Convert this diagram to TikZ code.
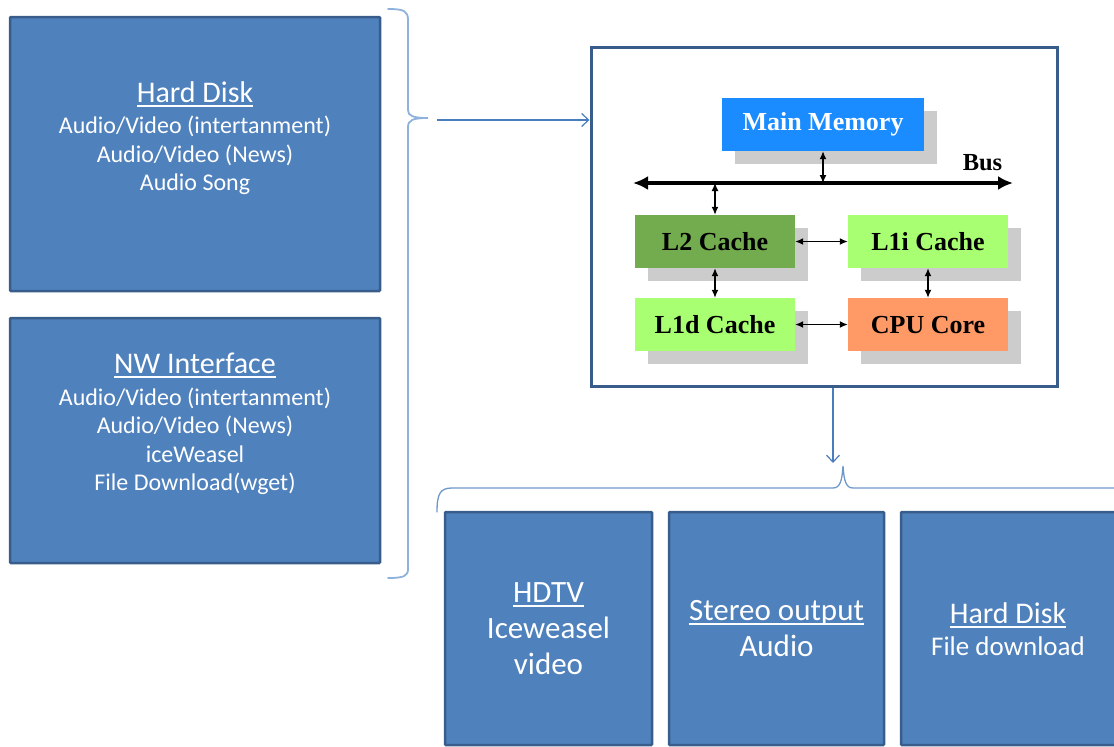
\documentclass[tikz,border=0pt]{standalone}
\usepackage{fontspec}
\setmainfont{Carlito}
\newfontfamily\serifbold{Liberation Serif}
\usetikzlibrary{arrows.meta,shadows}

\definecolor{boxblue}{HTML}{4F81BD}
\definecolor{boxedge}{HTML}{385D8A}
\definecolor{connblue}{HTML}{4A7EBB}
\definecolor{braceblue}{HTML}{8FB2DC}
\definecolor{memblue}{HTML}{1A8CFF}
\definecolor{ltwogreen}{HTML}{73AC4E}
\definecolor{lonegreen}{HTML}{A8FF72}
\definecolor{coresalmon}{HTML}{FF9966}
\definecolor{shadowgray}{HTML}{CCCCCC}

% underline with a fixed drop below the baseline
\newsavebox\ulinebox
\newcommand\ulined[1]{\sbox\ulinebox{#1}\rlap{\rule[-0.15em]{\wd\ulinebox}{0.065em}}\usebox\ulinebox}

\begin{document}
\begin{tikzpicture}[x=1pt,y=-1pt,
  bluebox/.style={rectangle, fill=boxblue, draw=boxedge, line width=2.5pt, inner sep=0pt, rounded corners=1pt},
  boxtext/.style={text=white, anchor=base, inner sep=0pt},
  titlebig/.style={boxtext, font=\fontsize{30}{36}\selectfont},
  subsmall/.style={boxtext, font=\fontsize{24}{29}\selectfont},
  sublarge/.style={boxtext, font=\fontsize{31}{36}\selectfont},
  submid/.style={boxtext, font=\fontsize{27}{32}\selectfont},
  cachebox/.style={rectangle, inner sep=0pt, minimum width=160pt, minimum height=53pt,
    text height=23.4pt, text depth=6.4pt,
    font=\serifbold\bfseries\fontsize{26}{30}\selectfont,
    drop shadow={shadow xshift=13pt, shadow yshift=-13pt, fill=shadowgray, opacity=1}},
  bidir/.style={{Latex[length=8pt,width=7pt]}-{Latex[length=8pt,width=7pt]}, line width=1.3pt},
  flow/.style={draw=connblue, line width=1.2pt, -{Straight Barb[length=7pt,width=13pt]}},
  brace/.style={draw=braceblue, line width=1.8pt, line cap=round}
]
\useasboundingbox (0,0) rectangle (1114,747);

% ---- sources ----
\node[bluebox, minimum width=370pt, minimum height=274pt] (srcdisk) at (195,154) {};
\node[titlebig] (srcdiskt) at (195,102) {\ulined{Hard Disk}};
\node[subsmall] (srcdiska) at (195,133) {Audio/Video (intertanment)};
\node[subsmall] (srcdiskb) at (195,162) {Audio/Video (News)};
\node[subsmall] (srcdiskc) at (195,190) {Audio Song};

\node[bluebox, minimum width=370pt, minimum height=245pt] (srcnet) at (195,440.5) {};
\node[titlebig] (srcnett) at (195,373) {\ulined{NW Interface}};
\node[subsmall] (srcneta) at (195,405) {Audio/Video (intertanment)};
\node[subsmall] (srcnetb) at (195,433) {Audio/Video (News)};
\node[subsmall] (srcnetc) at (195,462) {iceWeasel};
\node[subsmall] (srcnetd) at (195,490) {File Download(wget)};

% brace gathering the sources
\draw[brace] (388,9) .. controls (404,9) and (408,11) .. (408,20)
  -- (408,110) .. controls (408,116) and (413,118) .. (428,118)
  .. controls (413,118) and (408,120) .. (408,127)
  -- (408,569) .. controls (408,576) and (404,578) .. (388,578);

% ---- processing platform ----
\node[rectangle, draw=boxedge, fill=white, line width=3pt, inner sep=0pt,
      minimum width=466pt, minimum height=339pt] (cpuframe) at (824,216.5) {};

\node[cachebox, fill=memblue, text=white, minimum width=202pt, text depth=12pt] (mem) at (823,124.5) {Main Memory};
\node[cachebox, fill=ltwogreen] (ltwo) at (715,241.5) {L2 Cache};
\node[cachebox, fill=lonegreen] (lonei) at (928,241.5) {L1i Cache};
\node[cachebox, fill=lonegreen] (loned) at (715,324.5) {L1d Cache};
\node[cachebox, fill=coresalmon] (core) at (928,324.5) {CPU Core};

% system bus
\coordinate (busleft) at (633,183);
\coordinate (busright) at (1013,183);
\draw[line width=4pt, {Latex[length=15pt,width=14pt]}-{Latex[length=15pt,width=14pt]}] (busleft) -- (busright);
\node[anchor=base, inner sep=0pt, font=\serifbold\bfseries\fontsize{24.5}{28}\selectfont] (buslabel) at (982.5,170) {Bus};

\draw[bidir] (mem.south) -- (mem.south |- busleft);
\draw[bidir] (ltwo.north |- busleft) -- (ltwo.north);
\draw[bidir] (ltwo.east) -- (lonei.west);
\draw[bidir] (ltwo.south) -- (loned.north);
\draw[bidir] (lonei.south) -- (core.north);
\draw[bidir] (loned.east) -- (core.west);

% flows in and out
\coordinate (feed) at (437,120);
\draw[flow] (feed) -- (feed -| cpuframe.west);
\coordinate (drop) at (833,463);
\draw[flow] (drop |- cpuframe.south) -- (drop);

% brace over the outputs
\draw[brace, draw=connblue!80, line width=1.3pt] (437,512) .. controls (437,494) and (440,488) .. (452,488)
  -- (833,488) .. controls (840,488) and (842,481) .. (843,466)
  .. controls (844,481) and (846,488) .. (853,488) -- (1120,488);

% ---- outputs ----
\node[bluebox, minimum width=207pt, minimum height=233pt] (outtv) at (548.5,628.5) {};
\node[sublarge] (outtvt) at (548.5,602) {\ulined{HDTV}};
\node[sublarge] (outtva) at (548.5,638) {Iceweasel};
\node[sublarge] (outtvb) at (548.5,674) {video};

\node[bluebox, minimum width=215pt, minimum height=233pt] (outaudio) at (776.5,628.5) {};
\node[sublarge] (outaudiot) at (776.5,620) {\ulined{Stereo output}};
\node[sublarge] (outaudioa) at (776.5,656) {Audio};

\node[bluebox, minimum width=215pt, minimum height=233pt] (outdisk) at (1008.5,628.5) {};
\node[titlebig] (outdiskt) at (1008,623) {\ulined{Hard Disk}};
\node[submid] (outdiska) at (1008,655) {File download};
\end{tikzpicture}
\end{document}
